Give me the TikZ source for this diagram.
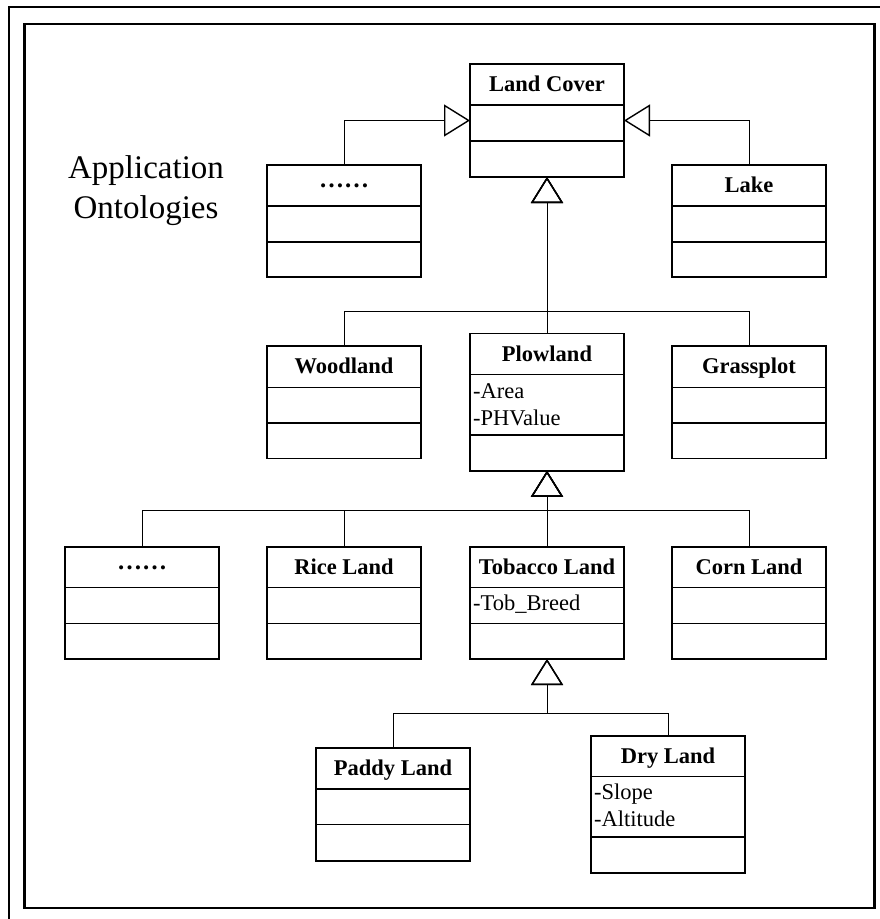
\documentclass[tikz,border=0pt]{standalone}
\usepackage{fontspec}
\setmainfont{Liberation Serif}
\usetikzlibrary{arrows.meta}
\tikzset{
  classbox/.style={draw, line width=1.4pt, minimum width=154pt, inner sep=0pt, outer sep=0pt, anchor=north west},
  divider/.style={line width=1.4pt},
  titletext/.style={font=\bfseries\fontsize{22.5}{27}\selectfont, inner sep=0pt, anchor=base},
  attrtext/.style={font=\fontsize{22.5}{26.7}\selectfont, inner sep=0pt, anchor=base west, align=left},
  gen/.style={line width=0.9pt, -{Triangle[open, length=26pt, width=32pt, line width=1.4pt]}},
  framein/.style={line width=2.4pt},
  frameout/.style={line width=2pt},
  bigtext/.style={font=\fontsize{33}{40}\selectfont, inner sep=0pt, align=center, anchor=base}
}
\newcommand\umlclass[8]{%
  \node[classbox, minimum height=#4pt] (#1) at (#2,#3) {};
  \draw[divider] (#2,#3+#5) -- ++(154,0);
  \draw[divider] (#2,#3+#6) -- ++(154,0);
  \node[titletext] (#1-title) at (#2+77,#3+#8) {#7};
}
\begin{document}
\begin{tikzpicture}[x=1pt,y=-1pt]
\useasboundingbox (0,0) rectangle (880,919);
% frames
\draw[frameout] (8.7,919) -- (8.7,7.3) -- (880,7.3);
\draw[framein] (24.3,24) rectangle (874.3,907.7);
% label (base anchor = baseline of last line)
\node[bigtext] (app) at (146,218) {Application\\Ontologies};
% classes
\umlclass{landcover}{470}{64}{113}{41}{77}{Land Cover}{27.7}
\umlclass{dotsA}{267}{165}{112}{41}{77}{\fontsize{25}{27}\selectfont ……}{22.5}
\umlclass{lake}{672}{165}{112}{41}{77}{Lake}{27.7}
\umlclass{woodland}{267}{346}{112.5}{41.3}{77}{Woodland}{27.7}
\umlclass{plowland}{470}{333.3}{137.5}{41.4}{101.7}{Plowland}{27.7}
\umlclass{grassplot}{672}{346}{112.5}{41.3}{77}{Grassplot}{27.7}
\umlclass{dotsB}{65}{547}{112}{40.3}{76.3}{\fontsize{25}{27}\selectfont ……}{22.5}
\umlclass{rice}{267}{547}{112}{40.3}{76.3}{Rice Land}{27.7}
\umlclass{tobacco}{470}{547}{112}{40.3}{76.3}{Tobacco Land}{27.7}
\umlclass{corn}{672}{547}{112}{40.3}{76.3}{Corn Land}{27.7}
\umlclass{paddy}{316}{748}{113}{41}{76.6}{Paddy Land}{27.7}
\umlclass{dry}{591}{736}{137}{40.3}{101}{Dry Land}{27.7}
% attributes (base anchor = baseline of last line)
\node[attrtext] (plowland-attr) at (473,425) {-Area\\-PHValue};
\node[attrtext] (tobacco-attr) at (473,610.7) {-Tob\_Breed};
\node[attrtext] (dry-attr) at (594,826.5) {-Slope\\-Altitude};
% bus junctions
\coordinate (bus1) at (547,311.7);
\coordinate (bus2) at (547,510.7);
\coordinate (bus3) at (547,713.3);
% generalisations
\draw[gen] (dotsA.north) |- (landcover.west);
\draw[gen] (lake.north) |- (landcover.east);
\draw[gen] (woodland.north) |- (bus1) -- (landcover.south);
\draw[gen] (grassplot.north) |- (bus1) -- (landcover.south);
\draw[gen] (plowland.north) -- (landcover.south);
\draw[gen] (dotsB.north) |- (bus2) -- (plowland.south);
\draw[gen] (rice.north) |- (bus2) -- (plowland.south);
\draw[gen] (corn.north) |- (bus2) -- (plowland.south);
\draw[gen] (tobacco.north) -- (plowland.south);
\draw[gen] (paddy.north) |- (bus3) -- (tobacco.south);
\draw[gen] (dry.north) |- (bus3) -- (tobacco.south);
\end{tikzpicture}
\end{document}
